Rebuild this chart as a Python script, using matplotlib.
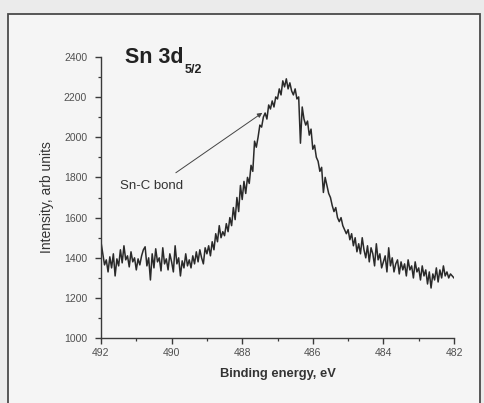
import numpy as np
import matplotlib
matplotlib.use("Agg")
import matplotlib.pyplot as plt
from matplotlib.patches import Rectangle

# Sn 3d5/2 XPS spectrum, 0.05 eV steps from 492 eV down to 482 eV
energy_start, energy_stop = 492.0, 482.0
intensity = [
    # 492.00 .. 491.00
    1478, 1420, 1365, 1390, 1330, 1405, 1350, 1420, 1310, 1395, 1360,
    1440, 1375, 1460, 1390, 1410, 1355, 1430, 1380, 1400, 1340,
    # 490.95 .. 490.00
    1395, 1365, 1410, 1440, 1455, 1360, 1400, 1290, 1420, 1350,
    1445, 1380, 1400, 1335, 1450, 1370, 1395, 1340, 1420, 1380,
    # 489.95 .. 489.00
    1330, 1460, 1370, 1400, 1310, 1385, 1350, 1420, 1360, 1390,
    1350, 1410, 1370, 1430, 1380, 1440, 1400, 1370, 1450, 1420,
    # 488.95 .. 488.00
    1460, 1410, 1480, 1440, 1520, 1480, 1560, 1500, 1530, 1510,
    1570, 1530, 1600, 1560, 1650, 1590, 1700, 1630, 1760, 1690,
    # 487.95 .. 487.00
    1780, 1720, 1800, 1770, 1860, 1830, 1980, 1950, 2000, 2060,
    2050, 2100, 2120, 2090, 2160, 2140, 2180, 2150, 2200, 2190,
    # 486.95 .. 486.00
    2240, 2210, 2280, 2250, 2290, 2240, 2270, 2230, 2210, 2240,
    2190, 2200, 1970, 2150, 2090, 2060, 2080, 2010, 2040, 1940,
    # 485.95 .. 485.00
    1960, 1900, 1880, 1830, 1850, 1725, 1800, 1760, 1720, 1700,
    1660, 1630, 1650, 1600, 1580, 1600, 1560, 1540, 1520, 1540,
    # 484.95 .. 484.00
    1490, 1520, 1460, 1500, 1430, 1470, 1420, 1500, 1440, 1400,
    1460, 1380, 1450, 1420, 1360, 1470, 1390, 1420, 1350, 1380,
    # 483.95 .. 483.00
    1410, 1330, 1450, 1360, 1400, 1330, 1370, 1390, 1320, 1380,
    1340, 1370, 1310, 1390, 1340, 1360, 1300, 1380, 1330, 1350,
    # 482.95 .. 482.00
    1290, 1360, 1310, 1340, 1270, 1330, 1250, 1320, 1290, 1350,
    1280, 1340, 1300, 1360, 1310, 1330, 1300, 1320, 1310, 1300,
]
energy = np.linspace(energy_start, energy_stop, len(intensity))

x_ticks = [492, 490, 488, 486, 484, 482]
y_ticks = [1000, 1200, 1400, 1600, 1800, 2000, 2200, 2400]

# annotation: text anchor and arrow ends in data units
bond_label = "Sn-C bond"
bond_label_pos = (491.46, 1755)
arrow_tail = (489.88, 1823)
arrow_tip = (487.43, 2121)

plt.rcParams["font.family"] = ["Liberation Sans", "DejaVu Sans"]

W, H = 485, 403
fig = plt.figure(figsize=(W / 100, H / 100), dpi=100)
fig.patch.set_facecolor("#ebebeb")

# page frame around the plot, kept underneath the axes
frame = Rectangle((8 / W, -0.05), (480 - 8) / W, 1 - 14 / H + 0.05,
                  transform=fig.transFigure, facecolor="#f5f5f5",
                  edgecolor="#4a4a4a", linewidth=1.3, zorder=-10)
fig.patches.append(frame)

ax = fig.add_axes([101 / W, 1 - 338.3 / H, (454 - 101) / W, (338.3 - 56.7) / H])
ax.set_facecolor("none")
ax.set_zorder(1)

ax.plot(energy, intensity, color="#2a2a2a", linewidth=1.1)

ax.set_xlim(energy_start, energy_stop)
ax.set_ylim(1000, 2400)
ax.set_xticks(x_ticks)
ax.set_yticks(y_ticks)
ax.set_xticks([491, 489, 487, 485, 483], minor=True)
ax.set_yticks([1100, 1300, 1500, 1700, 1900, 2100, 2300], minor=True)

for side in ("top", "right"):
    ax.spines[side].set_visible(False)
for side in ("left", "bottom"):
    ax.spines[side].set_color("#3a3a3a")
    ax.spines[side].set_linewidth(1.0)

ax.tick_params(which="major", direction="out", length=4, width=1.0,
               color="#3a3a3a", labelsize=7.5, labelcolor="#505050", pad=3)
ax.tick_params(axis="y", which="major", pad=6)
ax.tick_params(which="minor", direction="out", length=2.5, width=0.9,
               color="#3a3a3a")

ax.set_xlabel("Binding energy, eV", fontsize=9.3, fontweight="bold",
              color="#333333", labelpad=7)
ax.set_ylabel("Intensity, arb units", fontsize=10, color="#333333",
              labelpad=7)

# heading with its subscript set as a separate smaller label
ax.text(125 / W, 1 - 47 / H, "Sn 3d", transform=fig.transFigure,
        fontsize=15.5, fontweight="bold", color="#222222",
        ha="left", va="top")
ax.text(185 / W, 1 - 73 / H, "5/2", transform=fig.transFigure,
        fontsize=9, fontweight="bold", color="#222222",
        ha="left", va="baseline")

ax.annotate("", xy=arrow_tip, xytext=arrow_tail,
            arrowprops=dict(arrowstyle="-|>", color="#444444", lw=0.7,
                            mutation_scale=7, shrinkA=0, shrinkB=0))
ax.text(*bond_label_pos, bond_label, fontsize=9.5, color="#333333",
        ha="left", va="center")

fig.savefig("out.png", dpi=100, facecolor=fig.get_facecolor())
